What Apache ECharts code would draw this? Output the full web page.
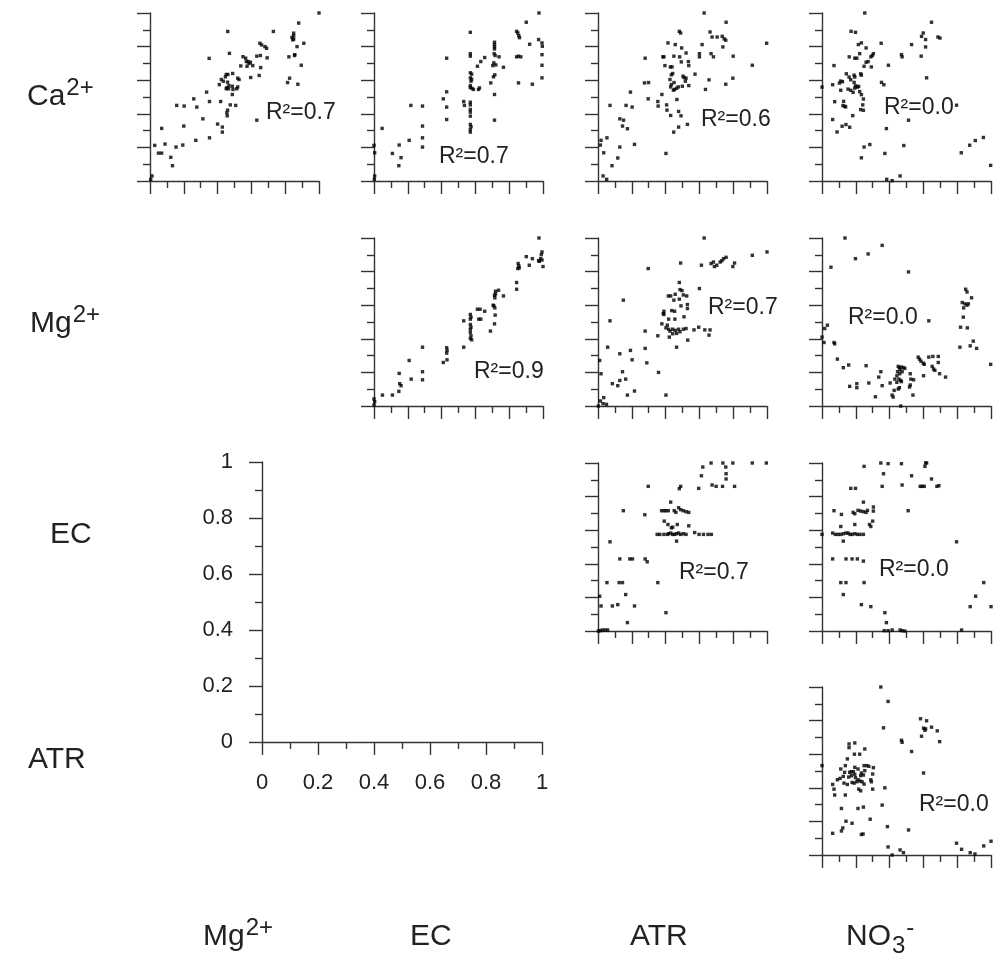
<!DOCTYPE html>
<html><head><meta charset="utf-8">
<script src="https://cdn.jsdelivr.net/npm/echarts@6/dist/echarts.min.js"></script>
<style>html,body{margin:0;padding:0;background:#fff}#c{width:993px;height:956px}</style>
</head><body><div id="c"></div><script>
// ---- Data (scatter panels on a 0-100 scale) ----
const rowNames = ['Ca', 'Mg', 'EC', 'ATR'];
const colNames = ['Mg', 'EC', 'ATR', 'NO'];
const r2Values = ['0.7', '0.7', '0.6', '0.0', '0.9', '0.7', '0.0', '0.7', '0.0', '0.0'];
const sampleTicks = [0, 0.2, 0.4, 0.6, 0.8, 1];

const caMg = [[100,100],[88,94],[73,89],[46,89],[85,88],[85,86.5],[84,85.5],[85,84.5],[84.5,84],[91,82],[87,80],[65,82],[66,81],[68,80],[69,79],[47,76],[35,73],[55,74],[56.6,73.1],[57,71.1],[58,71.1],[59.4,70.7],[58.6,69.9],[63.2,74.3],[65.3,74.7],[69.3,73.3],[82.2,73.9],[85.5,74.7],[85.7,75.2],[53.7,68.5],[57.4,68.3],[60.8,68.7],[59.6,61.6],[64.6,62.8],[65.5,67.5],[89.5,68.9],[45.1,63.4],[46.1,63.4],[48.9,64],[44.6,62],[42.2,60.4],[43.4,59.4],[45.9,58.8],[41,57.4],[46.7,56.8],[45.5,55.6],[45.1,54.9],[46.5,54.9],[48.7,56.4],[51.3,54.9],[51.9,56],[52.7,60.4],[51.9,61.2],[48.7,51.5],[49.1,54.5],[82.6,61.2],[81.4,58.6],[87.5,57.6],[33.5,52.9],[35.2,47.3],[41.8,47.3],[47.5,45.3],[50.7,45],[45.9,42.2],[45.5,40.6],[45.7,38.8],[25.9,48.9],[27.7,44],[15.8,45],[20.2,44.6],[63.2,36.2],[31.3,37],[40,33.9],[42.8,32.1],[42.8,29.1],[35.2,25.7],[27.1,24.2],[20,32.7],[6.9,31.3],[2.8,21.2],[8.9,22],[19.4,21.4],[15.4,20.2],[5,16.6],[6.9,16.6],[12.3,14.1],[13.3,9.1],[1.2,3],[0.4,1]];

const caEC = [[97.6,100],[90.1,94.5],[57,88.5],[84.4,89.1],[85.1,88.1],[85.7,86.5],[86.1,85.3],[92.1,81.4],[97.4,84.2],[99.4,82.2],[99.6,80.2],[71.3,82.6],[71.3,81.2],[71.3,79.8],[71.3,78.6],[57,75.8],[57,74.3],[43,73.1],[71.1,75.8],[71.7,74.7],[74,73.9],[65.5,73.5],[63.2,71.1],[61.2,68.3],[84.4,73.9],[85.5,74.3],[86.9,73.9],[99.4,75.2],[70.9,70.3],[72.1,69.1],[70.3,68.7],[76.6,67.7],[99.4,68.9],[57,64.4],[57.8,63.6],[57,61.4],[57.8,60.6],[57.4,59.4],[71.5,63.2],[70.7,62],[99.4,61.4],[57,56.8],[57,55.6],[58,55.2],[58.8,54.5],[61.8,54.5],[62.4,55.4],[69.1,58.4],[85.5,58.4],[93.7,57.6],[43,53.1],[71.3,51.5],[41,48.9],[53.1,47.3],[53.5,45],[57,46.9],[57,45.3],[57,42.6],[57,41],[57,38.6],[43,44],[43,36.6],[21.8,45],[28.7,44.6],[71.3,36.2],[28.7,32.7],[57,33.7],[57.4,32.3],[57,30.7],[57,29.1],[4.8,31.3],[28.7,25.7],[28.7,20.2],[20.8,24.2],[14.9,21.4],[0,21.2],[0.4,16.8],[10.9,16.4],[16,13.9],[14.7,9.1],[0.4,3],[0.2,1]];

const caATR = [[62.8,100],[75.8,94.5],[48.1,89.1],[48.9,88.1],[66.3,88.7],[67.5,85.7],[70.5,85.7],[73.5,86.1],[74.7,84.6],[75.6,83.8],[73.9,79.8],[99.8,82],[41.4,82.2],[45.7,81.2],[49.5,79.2],[61.6,81.2],[60,75.8],[60,73.9],[66.9,75.8],[68.3,73.9],[27.9,73.1],[38.4,73.9],[39,73.9],[44.9,74.3],[48.3,73.9],[52.1,76.2],[80,74.3],[39.6,68.7],[42.8,67.9],[43.8,67.9],[49.3,70.9],[53.5,71.1],[53.7,68.7],[44.2,64],[43.4,63.2],[42.6,60.4],[45,58.6],[43.4,57.4],[43,56],[45.3,54.5],[44.6,54.1],[46.5,55.2],[47.5,56],[50.3,62.4],[50.9,61.6],[52.1,61.2],[49.9,56.4],[51.7,59.4],[53.7,56.8],[57.4,63.6],[91.3,68.9],[65.7,60.2],[79.8,61.2],[75.6,57.6],[63.6,54.5],[27.5,58.4],[29.9,58.6],[19.2,52.9],[37.8,51.5],[29.7,48.9],[35.4,47.3],[35.6,44.6],[40.6,45.3],[40.8,42.2],[43,39],[47.7,41.4],[49.1,38.8],[46.7,48.5],[16.6,45],[20.2,44],[7.1,45],[52.9,33.7],[47.7,32.1],[44.8,29.1],[12.9,37],[15.1,36.2],[14.5,32.7],[17.4,31.1],[5.3,25.7],[1.8,24.2],[1.4,21.4],[12.9,20.2],[21.6,21.8],[3.4,16.8],[11.7,13.7],[8.3,9.1],[40.2,16.4],[3,3],[5.1,1]];

const caNO3 = [[25.3,100],[64.8,94.5],[17.2,89.1],[19.8,88.5],[59.9,88.1],[58.9,86.1],[61.3,84.2],[61.3,79.8],[58.7,74.3],[68.6,85.7],[69.8,85.1],[21.5,81.2],[23.3,82.2],[26.1,79.2],[35,82],[53,81.2],[16.1,73.9],[19.4,73.1],[20.6,73.1],[22.3,75.8],[7.1,68.7],[30.4,75.8],[29.8,74.7],[28.9,73.9],[27.3,71.1],[26.1,70.7],[24.9,68.3],[29.2,67.9],[47,75.2],[47.4,73.9],[39.3,68.9],[61.9,61.4],[14.4,63.8],[16,61.9],[17,60.3],[11.1,59.5],[10.3,58.3],[12.1,59.1],[19,63],[19.4,61.9],[22.9,63.8],[23.3,63],[0,55.9],[6.3,57.3],[19,58.7],[19.8,56.7],[20.9,55.9],[21.7,56.3],[19.4,55.3],[15.4,54.7],[17,54],[18.4,52.8],[22.3,53.2],[35.2,58.7],[36.6,57.3],[11.1,54],[23.3,51.4],[24.5,48.8],[24.1,45.3],[22.9,42.5],[24.5,42.1],[7.5,47.2],[12.8,47.4],[12.4,44.9],[13.4,44.5],[14,44.1],[18.2,38.9],[6.3,36.6],[14.2,33.6],[11.9,32.6],[16.4,32],[8.9,29.2],[38.1,31.2],[51.2,36.2],[48.4,21.1],[37.2,16.4],[28.3,21.7],[24.9,20.2],[23.3,13.8],[79.6,45.1],[95.5,25.9],[90.7,24.1],[87.4,21.3],[82.4,16.8],[99.8,9.3],[38.3,1],[41.5,0.2],[46.2,3]];

const mgEC = [[97.6,100],[99.4,91.7],[99,90.1],[98.6,87.7],[99.4,86.9],[97.8,86.1],[100,83],[97.4,86.5],[90.1,88.9],[91.9,83.8],[93.7,87.7],[85.3,84.8],[85.7,83.4],[85.9,82.2],[85.1,81.8],[84.4,73.5],[84.4,69.5],[73.7,68.9],[71.9,68.3],[71.3,65.9],[71.5,64.4],[71.9,66.7],[76.6,65.5],[70.5,60],[70.9,59.6],[71.5,58.4],[71.7,54.1],[71.3,48.9],[68.9,44.6],[61.2,57.6],[62.8,57.6],[65.5,56.4],[62,51.7],[63.2,51.7],[57,54.5],[57.4,52.9],[57,51.7],[57,48.5],[57.4,46.9],[57,45.7],[57,43.8],[57.4,41.8],[57,40.2],[57.8,39.4],[53.1,50.7],[53.1,35],[43,34.7],[43.2,33.1],[43,31.5],[43.2,27.5],[41,25.9],[28.7,35],[28.7,20.4],[28.7,15.6],[20.8,27.1],[22,16],[14.9,19.4],[15.2,13.3],[16,12.1],[14.7,8.7],[5,6.5],[10.9,6.5],[0,4.2],[0.4,2.6],[0,0.6]];

const mgATR = [[62.8,100],[100,91.7],[91.3,89.7],[75.8,88.5],[74.3,87.7],[73.3,86.5],[72.3,85.7],[80.8,85.1],[79.8,83],[68.3,85.7],[66.9,84.8],[68.9,83],[70.3,83.8],[61.2,83.8],[48.9,85.1],[29.7,81.8],[48.1,73.5],[48.5,69.3],[49.7,68.7],[60,69.9],[15,63],[41.6,65.5],[43,65.5],[45.7,66.5],[44.9,63],[48.1,63.6],[50.5,66.1],[52.5,65.5],[49.1,59.6],[52.9,60.4],[52.9,58],[50.9,53.1],[45.3,56.4],[43.6,56.8],[45.5,51.7],[41.8,51.7],[39,56.4],[38.6,55],[39,54.5],[37.8,48.9],[41,48.1],[40.2,46.5],[41.8,45.7],[42.6,44.6],[44.2,45.7],[45.7,45],[47.7,45.7],[48.5,44.2],[50.5,45.7],[52.1,46.1],[46.5,43.2],[44.2,43],[42.2,41],[56.8,45.3],[59.6,46.9],[63.2,45.3],[66.3,45.3],[65.7,42.2],[53.1,39.2],[46.5,35],[35.4,41.8],[7.1,50.7],[5.7,35],[27.9,44.6],[27.9,34.3],[28.9,25.7],[12.9,31.1],[19.2,33.1],[20.2,27.5],[35.8,20],[40.2,6.5],[1,27.1],[1.8,19.2],[14.5,20.4],[12.9,15.2],[16.4,16],[8.5,13.3],[11.7,12.1],[21.6,8.9],[17.4,6.5],[1.4,3],[3.4,5],[3,1.4],[5,1],[0.2,0]];

const mgNO3 = [[13.6,100],[35.6,95.6],[27.3,90.5],[19.8,87.7],[5.3,82.6],[51.2,79.8],[85,69.5],[85.8,67.9],[88.5,64.4],[83,61.6],[84.6,60.8],[85.8,60],[86.6,60.8],[83.8,58.4],[83.6,52.9],[82,46.9],[86,46.5],[81.6,35],[87.7,35.8],[89.5,38.6],[91.5,34.3],[63.2,50.7],[99.8,24.8],[1.6,46.1],[3.2,48.1],[0,41],[1.2,37.8],[7.1,37.8],[7.5,37],[9.1,27.9],[12.6,22.8],[15.8,24.4],[26.1,24],[34.8,20.4],[33.6,17.2],[35.6,12.1],[27.7,13.7],[20.6,13.3],[20.6,10.9],[16.4,11.7],[31.6,5.5],[40.3,13.7],[45.1,23.6],[45.8,22.8],[47,23.2],[48.2,22.8],[49,22.4],[46.2,21.6],[44.7,20.4],[47.4,20.4],[46,19.2],[44.3,18],[43.1,16],[45.5,16],[46.6,15.2],[44.3,14.1],[47,14.5],[45.8,10.9],[45.1,10.1],[42.7,9.3],[41.5,6.5],[42.1,5.3],[46.6,0],[52.2,19.2],[52.6,16],[52.2,12.5],[51.8,11.3],[54.2,15.6],[53.8,6.5],[56.9,29.1],[57.7,27.9],[58.5,26.7],[59.9,25.5],[60.5,24.8],[60.1,18],[63.2,29.1],[65.6,29.5],[68.8,29.5],[65.2,23.6],[66,22],[66.8,21.2],[68.8,25.9],[69.6,19.2],[73.1,17.2]];

const ecATR = [[66.9,100],[73.9,100],[79.8,100],[91.3,100],[99.6,100],[62,97.6],[61.2,92.4],[75.6,97.6],[75.8,93.6],[75.8,90.5],[67.5,86.9],[69.9,86.1],[73.7,86.1],[80.8,86.1],[59.6,84.9],[48.9,86.1],[48.1,84.7],[29.7,86.1],[43,76.7],[37.6,71.6],[39,71.6],[40.2,71.6],[41.6,71.6],[45.1,71.6],[46.1,70.6],[47.7,73.4],[48.9,72.2],[50.5,71.6],[52.1,71],[53.7,70.6],[15,71.6],[27.7,69.2],[39.2,65.4],[41.4,63.4],[44.2,61.8],[43.4,61.4],[46.9,63.4],[53.7,62.6],[35,57.5],[36.6,57.5],[39,57.5],[41,57.5],[41.8,57.9],[43,58.3],[44.2,57.5],[45.3,57.5],[46.5,57.9],[47.7,58.3],[48.9,57.5],[50.5,57.9],[52.1,57.5],[57.2,58.6],[59.8,57.5],[62.4,57.5],[65.1,57.5],[67.1,57.5],[46.5,53.5],[7.1,53.1],[12.9,42.9],[18.8,42.9],[20.4,42.9],[27.9,42.9],[29.1,41.2],[5.3,28.8],[12.5,28.8],[14.5,28.8],[35.4,28.8],[1,20.7],[16.4,21.7],[1.8,14.9],[8.5,14.9],[11.7,15.7],[21.6,14.9],[40.2,10.9],[17.4,5],[0.2,0],[1.4,0.2],[2.6,0.6],[4.2,0.6],[5.7,0.6]];

const ecNO3 = [[34.8,100],[39.1,99.6],[47,99.6],[61.3,100],[61.9,100],[60.9,98],[36.4,93.6],[24.9,98],[53,92.4],[64.8,90.5],[35.6,86.1],[47.4,86.9],[58.1,86.1],[59.3,86.1],[60.5,86.1],[68,86.1],[69.2,86.5],[17,84.9],[19.8,84.9],[24.5,76.7],[51,71.6],[7.1,71.6],[11.5,69.4],[18.4,70.6],[19.4,69.8],[21.3,71.8],[22.9,71.4],[24.5,71],[26.1,70.6],[26.9,71.8],[30.4,71.4],[30.4,73.8],[30,65.4],[28.1,63.4],[28.9,62.2],[11.1,62.2],[19.4,63.4],[0,57.5],[6.3,58.3],[7.9,57.5],[9.5,57.5],[11.1,57.5],[12.6,57.9],[14.2,58.3],[15.4,58.3],[16.6,57.5],[17.8,57.5],[19.4,57.9],[20.9,57.5],[22.5,57.5],[24.5,57.5],[12.6,53.5],[79.6,53.1],[6.3,42.9],[14.2,42.9],[17.8,42.9],[20.9,42.9],[24.5,41.6],[11.1,28.8],[14.2,28.8],[24.9,28.8],[95.7,28.8],[12.6,21.7],[90.9,20.7],[23.3,15.7],[28.9,14.5],[87.7,14.5],[100,14.5],[37.2,10.9],[38.1,5],[36.8,0.2],[39.1,0.2],[41.5,0.6],[46.2,0.6],[47.4,0.2],[49,0],[82.6,0.6]];

const atrNO3 = [[34.8,100],[39.1,91.4],[36.4,75.7],[58.3,81.1],[61.9,79.9],[60.1,75.5],[60.9,74.3],[64.8,76.1],[61.3,75.1],[68.2,73.9],[69.6,67.5],[58.9,70.7],[47,68.3],[47.4,67.1],[53,61.6],[60.1,48.8],[0,53.2],[16,66.1],[16,63.9],[19.4,66.7],[19.2,60],[22.3,60],[25.3,63.1],[15,57.2],[13.8,53.2],[11.1,51.2],[9.1,44.8],[6.3,42],[7.1,39.2],[7.5,35.7],[10.7,45.6],[12.6,46.8],[13,42.8],[15,42],[13.8,35.7],[16.4,49.2],[17.4,47.2],[18.6,49.6],[19.4,48],[19.8,46],[20.6,43.6],[21.3,44.8],[17.8,43.2],[19,42.8],[22.5,44],[22.9,47.2],[23.3,48.8],[24.9,53.2],[26.5,53.2],[27.7,52.8],[25.3,50.2],[24.5,47.6],[23.7,43.6],[24.9,42.2],[21.7,39.2],[22.9,38.2],[29.2,43.6],[30,48.2],[30.4,52],[28.9,44.8],[11.5,27.7],[21.3,27.7],[24.5,28.5],[14.2,20.1],[17.8,18.9],[12.3,16.1],[11.5,14.3],[6.3,12.9],[23.3,12.2],[24.3,12.5],[28.5,21.3],[30,39.2],[17.4,49.6],[15.8,46.4],[13.4,49.2],[21.3,51.2],[19.4,52.2],[37.2,40],[35.6,29.7],[38.7,16.9],[39.1,4.8],[51.2,14.9],[41.5,0],[46.2,3],[48.2,1.4],[79.6,7],[82.6,3.4],[87.7,1.4],[90.5,0.6],[95.7,5.4],[100,8.2]];

// ---- Layout ----
const FONT = '"Liberation Sans", Arial, sans-serif';
const AX = '#333';
const colX = [150, 374, 598, 822];
const rowY = [13, 238, 463, 687];
const PW = 169, PH = 168;

const panels = [
  { r: 0, c: 0, data: caMg,  lab: [266, 113] },
  { r: 0, c: 1, data: caEC,  lab: [439, 157] },
  { r: 0, c: 2, data: caATR, lab: [701, 120] },
  { r: 0, c: 3, data: caNO3, lab: [884, 108] },
  { r: 1, c: 1, data: mgEC,  lab: [474, 372] },
  { r: 1, c: 2, data: mgATR, lab: [708, 308] },
  { r: 1, c: 3, data: mgNO3, lab: [848, 318] },
  { r: 2, c: 2, data: ecATR, lab: [679, 573] },
  { r: 2, c: 3, data: ecNO3, lab: [879, 570] },
  { r: 3, c: 3, data: atrNO3, lab: [919, 805] }
];

function axisCfg(i, isX, max, showLabel) {
  const a = {
    gridIndex: i, type: 'value', min: 0, max: max, interval: max / 5,
    axisLine: { show: true, onZero: false, lineStyle: { color: AX, width: 1.4 } },
    axisTick: { show: true, length: 13, lineStyle: { color: AX, width: 1.4 } },
    minorTick: { show: true, splitNumber: 2, length: 7, lineStyle: { color: AX, width: 1.4 } },
    splitLine: { show: false }, minorSplitLine: { show: false },
    axisLabel: { show: false }
  };
  if (showLabel) {
    a.axisLabel = { show: true, fontSize: 22, color: '#222', fontFamily: FONT,
      margin: isX ? 30 : 29,
      formatter: v => String(sampleTicks.find(t => Math.abs(t - v) < 1e-9) ?? v) };
  }
  return a;
}

const grid = [], xAxis = [], yAxis = [], series = [];
panels.forEach((p, i) => {
  grid.push({ left: colX[p.c], top: rowY[p.r], width: PW, height: PH });
  xAxis.push(axisCfg(i, true, 100, false));
  yAxis.push(axisCfg(i, false, 100, false));
  series.push({ type: 'scatter', xAxisIndex: i, yAxisIndex: i, data: p.data,
    symbol: 'rect', symbolSize: 3.4, itemStyle: { color: '#000' }, silent: true });
});
// scale panel
const si = panels.length;
grid.push({ left: 262, top: 462, width: 280, height: 280 });
xAxis.push(axisCfg(si, true, 1, true));
yAxis.push(axisCfg(si, false, 1, true));

const graphic = [];
const mctx = document.createElement('canvas').getContext('2d');
function tw(s, size) { mctx.font = size + 'px "Liberation Sans"'; return mctx.measureText(s).width; }
function txt(x, y, s, size, align) {
  graphic.push({ type: 'text', x: x, y: y, silent: true,
    style: { text: s, fontSize: size, fontFamily: FONT, fill: '#222',
      align: align || 'left', verticalAlign: 'middle' } });
}
panels.forEach((p, i) => txt(p.lab[0], p.lab[1], 'R²=' + r2Values[i], 23));

const MAIN = 30, SUP = 24;
function ion(x, y, base, sub, sup) {
  txt(x, y, base, MAIN);
  let xx = x + tw(base, MAIN) + 1;
  if (sub) { txt(xx, y + 9, sub, SUP); xx += tw(sub, SUP) + 1; }
  if (sup) txt(xx, y - 9, sup, SUP);
}
// row labels
ion(27, 97, rowNames[0], null, '2+');
ion(30, 324, rowNames[1], null, '2+');
ion(50, 535, rowNames[2]);
ion(28, 760, rowNames[3]);
// column labels
ion(203, 937, colNames[0], null, '2+');
ion(410, 937, colNames[1]);
ion(630, 937, colNames[2]);
ion(846, 937, colNames[3], '3', '-');

const chart = echarts.init(document.getElementById('c'), null, { renderer: 'canvas' });
chart.setOption({ animation: false, backgroundColor: '#fff', grid, xAxis, yAxis, series, graphic });
</script></body></html>
